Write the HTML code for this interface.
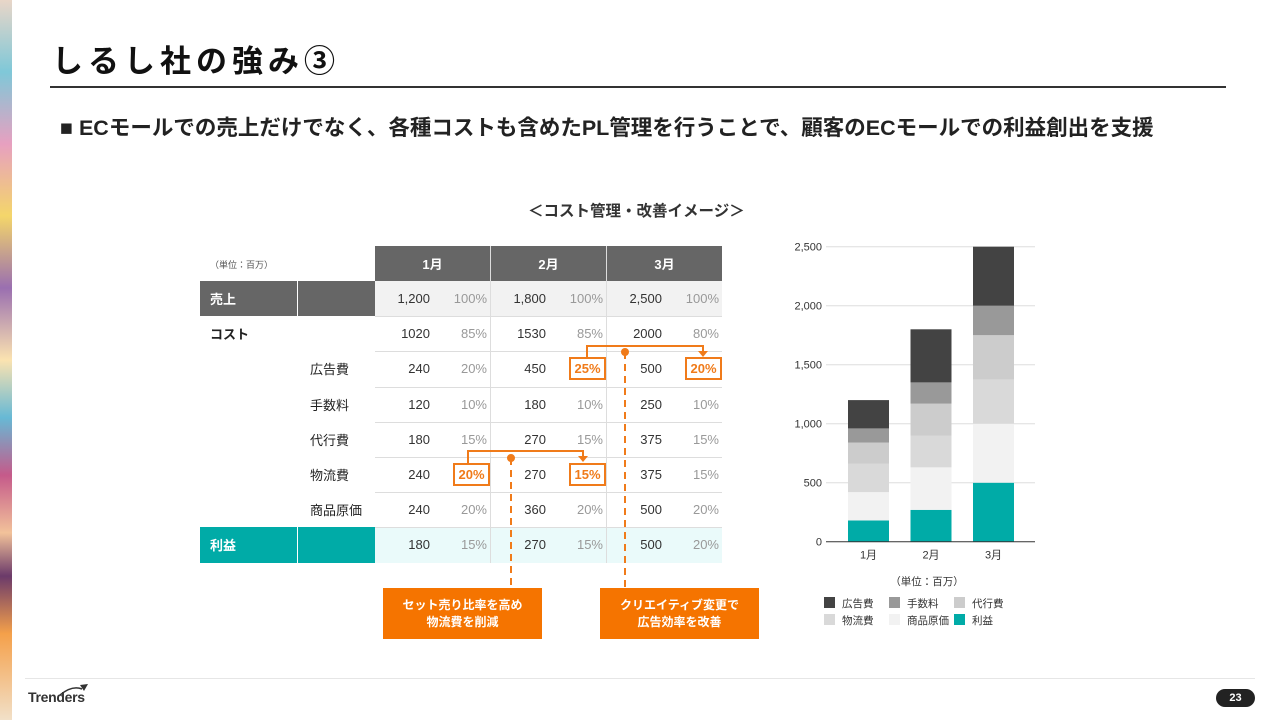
<!DOCTYPE html>
<html><head><meta charset="utf-8">
<style>
*{margin:0;padding:0;box-sizing:border-box}
body{width:1280px;height:720px;overflow:hidden;background:#fff;position:relative;font-family:"Liberation Sans","Noto Sans CJK JP",sans-serif;color:#222}
.abs{position:absolute}
.cell{position:absolute;font-size:13px;display:flex;align-items:center}
.hd{background:#666;color:#fff;font-weight:bold;justify-content:center}
.num{justify-content:flex-end;color:#333}
.pct{justify-content:flex-end;color:#999}
.cell.box{border:2px solid #f07b1a;color:#f07b1a;font-weight:bold;background:#fff}
.note{background:#f57400;color:#fff;font-weight:bold;font-size:12px;text-align:center;line-height:17px;display:flex;align-items:center;justify-content:center}
</style></head><body>
<div class="abs" style="left:0;top:0;width:12px;height:720px;background:linear-gradient(180deg,#e9d6c8,#7fc8d8 10%,#e7a0c0 20%,#f4d66a 30%,#9a6fb0 40%,#fbe3b0 50%,#67b9d5 58%,#c55a8a 66%,#f2c29a 74%,#6b3a6a 80%,#f4a04a 88%,#f2e0c8)"></div>
<div class="abs" style="left:52px;top:36px;font-size:31px;font-weight:bold;letter-spacing:5px;color:#111">しるし社の強み③</div>
<div class="abs" style="left:50px;top:86px;width:1176px;height:2px;background:#333"></div>
<div class="abs" style="left:60px;top:111px;font-size:21.5px;font-weight:bold;color:#222;white-space:nowrap">■ ECモールでの売上だけでなく、各種コストも含めたPL管理を行うことで、顧客のECモールでの利益創出を支援</div>
<div class="abs" style="left:528px;top:199px;font-size:15.5px;font-weight:bold;color:#333;white-space:nowrap">＜コスト管理・改善イメージ＞</div>

<div id="table"></div>

<svg class="abs" style="left:0;top:0" width="1280" height="720">
<g stroke="#f07b1a" stroke-width="2" fill="none">
<polyline points="587,357 587,346 703,346 703,352"/>
<polyline points="468,463 468,451 583,451 583,457"/>
<line x1="625" y1="352" x2="625" y2="588" stroke-dasharray="7,5"/>
<line x1="511" y1="458" x2="511" y2="588" stroke-dasharray="7,5"/>
</g>
<g fill="#f07b1a"><polygon points="698,351 708,351 703,357"/><polygon points="578,456 588,456 583,462"/>
<circle cx="625" cy="352" r="4"/><circle cx="511" cy="458" r="4"/></g>
</svg>

<div class="abs note" style="left:383px;top:588px;width:159px;height:51px">セット売り比率を高め<br>物流費を削減</div>
<div class="abs note" style="left:600px;top:588px;width:159px;height:51px">クリエイティブ変更で<br>広告効率を改善</div>

<svg class="abs" id="chart" style="left:780px;top:230px" width="270" height="410"></svg>

<div class="abs" style="left:25px;top:678px;width:1230px;height:1px;background:#e6e6e6"></div>
<div class="abs" style="left:28px;top:689px;font-size:14px;font-weight:bold;color:#333;letter-spacing:-0.3px">Trenders</div>
<svg class="abs" style="left:58px;top:683px" width="32" height="14"><path d="M2,12 Q14,2 24,6" stroke="#333" stroke-width="1.5" fill="none"/><polygon points="22,2 30,1 26,8" fill="#333"/></svg>
<div class="abs" style="left:1216px;top:689px;width:39px;height:18px;border-radius:9px;background:#222;color:#fff;font-size:11px;font-weight:bold;text-align:center;line-height:18px">23</div>

<script>
const months=["1月","2月","3月"];
const rowLabels=["売上","コスト","広告費","手数料","代行費","物流費","商品原価","利益"];
const vals=[[ "1,200","1,800","2,500"],["1020","1530","2000"],["240","450","500"],["120","180","250"],["180","270","375"],["240","270","375"],["240","360","500"],["180","270","500"]];
const pcts=[["100%","100%","100%"],["85%","85%","80%"],["20%","25%","20%"],["10%","10%","10%"],["15%","15%","15%"],["20%","15%","15%"],["20%","20%","20%"],["15%","15%","20%"]];
const boxed={"2-1":1,"2-2":1,"5-0":1,"5-1":1};
const T=document.getElementById('table');
function mk(cls,x,y,w,h,txt,st){const d=document.createElement('div');d.className='cell '+cls;d.style.cssText=`left:${x}px;top:${y}px;width:${w}px;height:${h}px;`+(st||'');d.textContent=txt;T.appendChild(d);return d;}
let u=mk('',210,249,100,30,'（単位：百万）','font-size:9px;color:#555');


const mx=[375,491,607];
months.forEach((m,i)=>{let h=mk('hd',mx[i],246,115,35,m);

});
const rowH=35.2;
rowLabels.forEach((lab,r)=>{
 const y=281+r*rowH;
 const sales=r==0,prof=r==7;
 if(sales||prof){const bg=sales?'#666':'#00aba7';
  let a=mk('',200,y,97,rowH,lab,`background:${bg};color:#fff;font-weight:bold;padding-left:10px`);
  
  
  let b=mk('',298,y,77,rowH,'',`background:${bg}`);
  
  
  let c=mk('',375,y,347,rowH,'',`background:${sales?'#f2f2f2':'#eafafa'}`);
  
  
 } else {
  let a=mk('',r==1?210:310,y,90,rowH,lab,'font-weight:'+(r==1?'bold':'normal'));
  
  
 }
 if(r>0){let l=mk('',375,y,347,1,'','background:#ddd');
  
  }
 months.forEach((m,i)=>{
  let n=mk('num',mx[i],y,55,rowH,vals[r][i]);
  
  
  const bx=boxed[r+'-'+i];
  let p=mk('pct'+(bx?' box':''),bx?mx[i]+78:mx[i]+57,bx?y+6:y,bx?37:55,bx?23:rowH,pcts[r][i],bx?'justify-content:center':'');
  
  
 });
});
[490,606].forEach(x=>{let l=mk('',x,246,1,317,'','background:#ddd');

});

// chart
const cats=["1月","2月","3月"];
const seriesNames=["利益","商品原価","物流費","代行費","手数料","広告費"];
const profit=[180,270,500];
const cogs=[240,360,500];
const logistics=[240,270,375];
const agency=[180,270,375];
const fees=[120,180,250];
const ads=[240,450,500];
const yTicks=[0,500,1000,1500,2000,2500];
const colors=["#00aba7","#f2f2f2","#d9d9d9","#cccccc","#999999","#434343"];
const series=[profit,cogs,logistics,agency,fees,ads];
const S=document.getElementById('chart');const NS='http://www.w3.org/2000/svg';
const y0=311.7,yTop=16.7,ymax=2500;
const ys=v=>y0-(v/ymax)*(y0-yTop);
const xs=i=>68+i*62.5;
function el(t,a){const e=document.createElementNS(NS,t);for(const k in a)e.setAttribute(k,a[k]);S.appendChild(e);return e;}
yTicks.forEach(t=>{
 if(t>0){let g=el('line',{x1:46,x2:255,y1:ys(t),y2:ys(t),stroke:'#ddd'});
 
 }
 let tx=el('text',{x:42,y:ys(t)+4,'text-anchor':'end','font-size':11,fill:'#333'});tx.textContent=t.toLocaleString('en-US');
 
 
});
cats.forEach((c,i)=>{
 let acc=0;
 series.forEach((s,k)=>{const r=el('rect',{x:xs(i),y:ys(acc+s[i]),width:41,height:ys(acc)-ys(acc+s[i]),fill:colors[k]});
 
 
 acc+=s[i];});
 let tx=el('text',{x:xs(i)+20.5,y:y0+17,'text-anchor':'middle','font-size':11,fill:'#333'});tx.textContent=c;
 
 
});
let ax=el('line',{x1:46,x2:255,y1:y0,y2:y0,stroke:'#333'});


let un=el('text',{x:147,y:355,'text-anchor':'middle','font-size':10.5,fill:'#333'});un.textContent='（単位：百万）';


const legOrder=[5,4,3,2,1,0];
legOrder.forEach((k,j)=>{const cx=44+(j%3)*65,cy=367+Math.floor(j/3)*17;
 let r=el('rect',{x:cx,y:cy,width:11,height:11,fill:colors[k]});
 
 
 let t=el('text',{x:cx+18,y:cy+10,'font-size':10.5,fill:'#333'});t.textContent=seriesNames[k];
 
 
});
</script>
</body></html>
